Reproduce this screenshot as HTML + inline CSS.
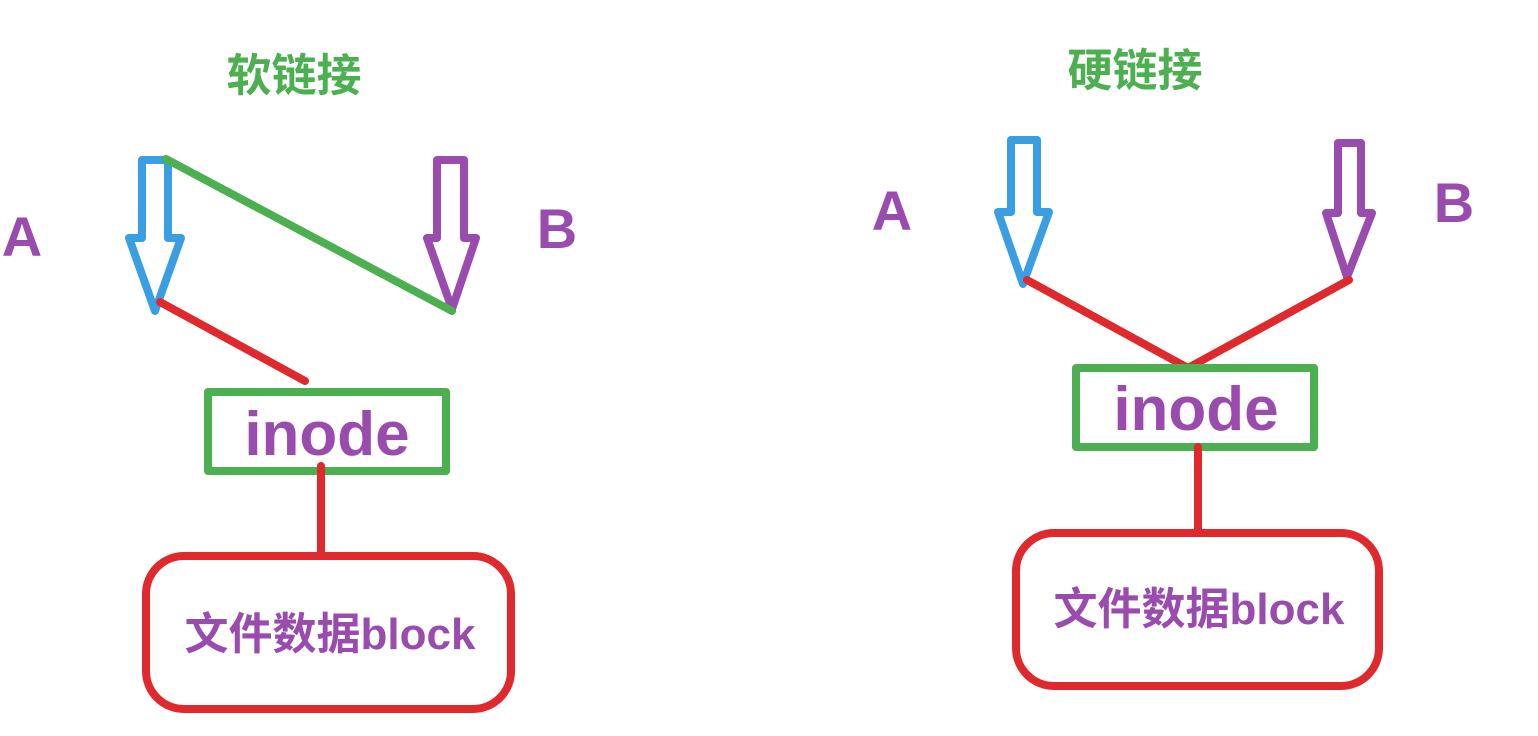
<!DOCTYPE html>
<html><head><meta charset="utf-8"><style>
html,body{margin:0;padding:0;background:#fff;}
svg{display:block;}
text{font-family:"Liberation Sans","Noto Sans CJK SC",sans-serif;font-weight:bold;}
</style></head><body>
<svg width="1538" height="736" viewBox="0 0 1538 736" xmlns="http://www.w3.org/2000/svg">
<g fill="none" stroke-width="8" stroke-linejoin="round" stroke-linecap="round">
<path d="M142 160 L168 160 L168 238 L181 238 L155 311 L129 238 L142 238 Z" stroke="#3a9ee2"/>
<path d="M437 160 L464 160 L464 238 L476 238 L452 309 L427 238 L437 238 Z" stroke="#9a4cae"/>
<line x1="166" y1="159" x2="452" y2="311" stroke="#4caf50"/>
<line x1="160" y1="302" x2="305" y2="381" stroke="#e0292c"/>
<rect x="208" y="392" width="238" height="79" stroke="#4caf50"/>
<line x1="321" y1="466" x2="321" y2="555" stroke="#e0292c"/>
<rect x="146" y="556" width="365" height="153" rx="38" stroke="#e0292c"/>
<path d="M1011 140 L1037 140 L1037 212 L1049 212 L1023 284 L998 212 L1011 212 Z" stroke="#3a9ee2"/>
<path d="M1338 143 L1361 143 L1361 213 L1372 213 L1347 277 L1326 213 L1338 213 Z" stroke="#9a4cae"/>
<polyline points="1027,280 1188,368 1349,280" stroke="#e0292c"/>
<rect x="1076" y="368" width="238" height="79" stroke="#4caf50"/>
<line x1="1198" y1="447" x2="1198" y2="532" stroke="#e0292c"/>
<rect x="1016" y="533" width="363" height="153" rx="38" stroke="#e0292c"/>
</g>
<g fill="#9a4cae">
<text x="22" y="256" font-size="56" text-anchor="middle">A</text>
<text x="557" y="248" font-size="56" text-anchor="middle">B</text>
<text x="892" y="230" font-size="56" text-anchor="middle">A</text>
<text x="1454" y="222" font-size="56" text-anchor="middle">B</text>
<text x="327" y="455" font-size="62" text-anchor="middle">inode</text>
<text x="1196" y="430" font-size="62" text-anchor="middle">inode</text>
<text x="330" y="649" font-size="44" text-anchor="middle">文件数据block</text>
<text x="1199" y="624" font-size="44" text-anchor="middle">文件数据block</text>
</g>
<g fill="#4caf50">
<text x="294" y="91" font-size="45" text-anchor="middle">软链接</text>
<text x="1135" y="86" font-size="45" text-anchor="middle">硬链接</text>
</g>
</svg>
</body></html>
